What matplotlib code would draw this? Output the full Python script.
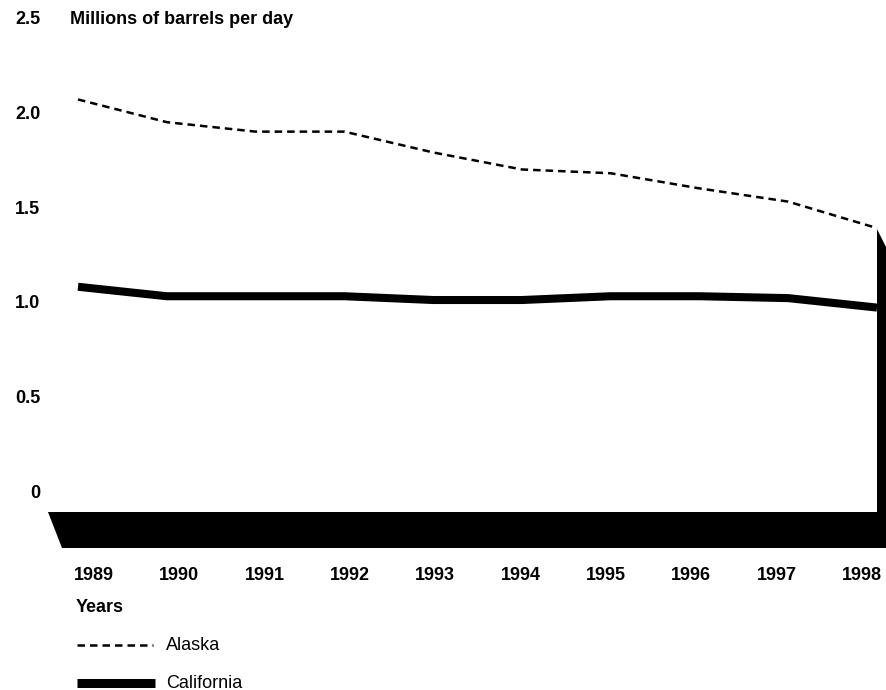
import matplotlib
matplotlib.use('Agg')
import matplotlib.pyplot as plt
from matplotlib.patches import Polygon
from matplotlib.lines import Line2D
import numpy as np

plt.rcParams['font.family'] = ['Liberation Sans', 'DejaVu Sans']

#### data
years = [1989, 1990, 1991, 1992, 1993, 1994, 1995, 1996, 1997, 1998]
alaska = [2.08, 1.96, 1.91, 1.91, 1.80, 1.71, 1.69, 1.61, 1.54, 1.40]
california = [1.09, 1.04, 1.04, 1.04, 1.02, 1.02, 1.04, 1.04, 1.03, 0.98]
ytick_vals = [0, 0.5, 1.0, 1.5, 2.0, 2.5]
ytick_labels = ['0', '0.5', '1.0', '1.5', '2.0', '2.5']

W, H = 886, 690
fig = plt.figure(figsize=(W/100.0, H/100.0), dpi=100)

def fx(px):
    return px/float(W)

def fy(py):
    return 1.0 - py/float(H)

# axes placed so 1989 -> x=78px, 1998 -> x=877px, 0 -> y=493px, 2.5 -> y=20px
ax = fig.add_axes([fx(78), fy(493), fx(877)-fx(78), fy(20)-fy(493)])
ax.set_xlim(years[0], years[-1])
ax.set_ylim(0, 2.5)
ax.axis('off')

ax.plot(years, alaska, color='k', lw=1.8, linestyle=(0, (3, 2)), clip_on=False)
ax.plot(years, california, color='k', lw=5.8, solid_capstyle='butt',
        solid_joinstyle='miter', clip_on=False)

# floor and side wall
floor = Polygon([(fx(48), fy(512)), (fx(886), fy(512)), (fx(886), fy(548)), (fx(62), fy(548))],
                closed=True, transform=fig.transFigure, facecolor='k', edgecolor='none')
wall = Polygon([(fx(877), fy(229)), (fx(886), fy(247)), (fx(886), fy(548)), (fx(877), fy(548))],
               closed=True, transform=fig.transFigure, facecolor='k', edgecolor='none')
fig.add_artist(floor)
fig.add_artist(wall)

# y labels
import matplotlib.transforms as mtransforms
trans = mtransforms.blended_transform_factory(fig.transFigure, ax.transData)
for v, lab in zip(ytick_vals, ytick_labels):
    xpos = fx(30) if lab == '0' else fx(15)
    ax.text(xpos, v, lab, transform=trans, ha='left', va='center',
            fontsize=13, fontweight='bold', clip_on=False)

fig.text(fx(70), fy(20), 'Millions of barrels per day', ha='left', va='center',
         fontsize=13, fontweight='bold')

# x labels
for i, yr in enumerate(years):
    fig.text(fx(94 + 85.3*i), fy(576), str(yr), ha='center', va='center',
             fontsize=13, fontweight='bold')

fig.text(fx(76), fy(608), 'Years', ha='left', va='center', fontsize=13, fontweight='bold')

# legend
fig.add_artist(Line2D([fx(77), fx(153)], [fy(645), fy(645)], transform=fig.transFigure,
                      color='k', lw=1.8, linestyle=(0, (3, 2))))
fig.text(fx(166), fy(646), 'Alaska', ha='left', va='center', fontsize=13)
fig.add_artist(Line2D([fx(77), fx(155)], [fy(683), fy(683)], transform=fig.transFigure,
                      color='k', lw=6.5, solid_capstyle='butt'))
fig.text(fx(166), fy(683), 'California', ha='left', va='center', fontsize=13)

plt.savefig('out.png', dpi=100)
